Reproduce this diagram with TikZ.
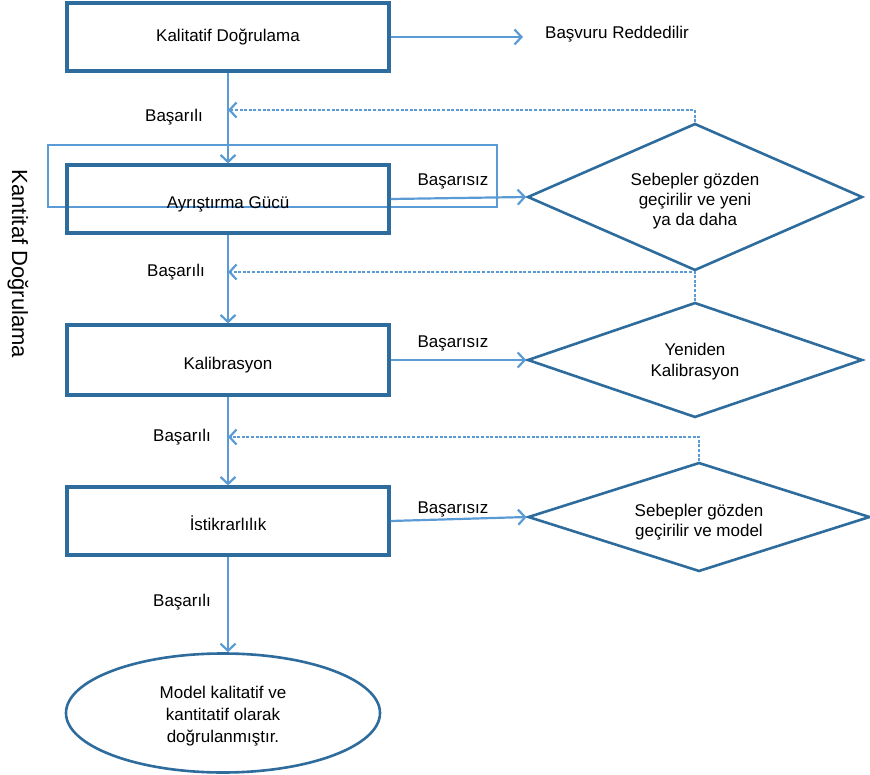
\documentclass[tikz,border=0pt]{standalone}
\usepackage{fontspec}
\setmainfont{Liberation Sans}
\usetikzlibrary{shapes.geometric,arrows.meta}
\definecolor{boxblue}{HTML}{2D6C9C}
\definecolor{linkblue}{HTML}{5B9BD5}

\begin{document}
\begin{tikzpicture}[x=1pt,y=-1pt,
  every node/.style={font=\fontsize{17}{20}\selectfont},
  stage/.style={draw=boxblue, line width=3.2pt, minimum width=322pt,
    minimum height=68pt, inner sep=0pt},
  lowtext/.style={text height=19pt, text depth=0pt},
  check/.style={diamond, draw=boxblue, line width=2.6pt, aspect=2.3,
    inner sep=0pt, minimum width=335pt, minimum height=147pt},
  ctext/.style={align=center, inner sep=0pt},
  link/.style={draw=linkblue, line width=2.2pt,
    -{Straight Barb[length=7pt,width=15pt]}},
  back/.style={draw=linkblue, line width=1.6pt, dash pattern=on 3pt off 1.6pt,
    -{Straight Barb[length=7pt,width=15pt,line width=2.2pt]}},
  lbl/.style={inner sep=0pt}]

\useasboundingbox (0,0) rectangle (870,775);

% thin outline around the second stage
\node[draw=linkblue, line width=1.4pt, minimum width=449pt, minimum height=62pt,
  inner sep=0pt] (frame) at (272.5,176) {};

% main stages
\node[stage] (b1) at (228,37) {Kalitatif Doğrulama};
\node[lbl, anchor=west] (rej) at (545,34) {Başvuru Reddedilir};
\node[stage, lowtext] (b2) at (228,199) {Ayrıştırma Gücü};
\node[stage, lowtext, minimum height=70pt] (b3) at (228,360) {Kalibrasyon};
\node[stage, lowtext] (b4) at (228,521) {İstikrarlılık};
\node[ellipse, draw=boxblue, line width=2.6pt, minimum width=314pt,
  minimum height=119pt, inner sep=0pt] (end) at (223,713) {};
\node[ctext, font=\fontsize{17}{22}\selectfont] (endtext) at (223,716)
  {Model kalitatif ve\\kantitatif olarak\\doğrulanmıştır.};

% decisions on failure
\node[check] (d1) at (695,197) {};
\node[ctext] (d1text) at (695,201) {Sebepler gözden\\geçirilir ve yeni\\ya da daha};
\node[check, minimum height=115pt] (d2) at (695,360) {};
\node[ctext, font=\fontsize{17}{21}\selectfont] (d2text) at (695,362)
  {Yeniden\\Kalibrasyon};
\node[check, minimum width=342pt, minimum height=109pt] (d3) at (699,517) {};
\node[ctext] (d3text) at (699,522) {Sebepler gözden\\geçirilir ve model};

% labels
\node[lbl] (ok1) at (174,117) {Başarılı};
\node[lbl] (ok2) at (176,272) {Başarılı};
\node[lbl] (ok3) at (182,437) {Başarılı};
\node[lbl] (ok4) at (182,602) {Başarılı};
\node[lbl] (no2) at (453,181) {Başarısız};
\node[lbl] (no3) at (453,343) {Başarısız};
\node[lbl] (no4) at (453,509) {Başarısız};
\node[rotate=-90, font=\fontsize{22}{26}\selectfont] (side) at (18,264)
  {Kantitaf Doğrulama};

% main flow
\draw[link, shorten >=22pt] (b1.east) -- (b1.east -| rej.west);
\draw[link] (b1) -- (b2);
\draw[link] (b2) -- (b3);
\draw[link] (b3) -- (b4);
\draw[link] (b4.south) -- (b4.south |- end.north);

% failure branches
\draw[link] (b2.east) -- (d1.west);
\draw[link] (b3.east) -- (d2.west);
\draw[link] (b4.east) -- (d3.west);

% return paths
\coordinate (m1) at (228,110);
\coordinate (m2) at (228,272);
\coordinate (m3) at (228,437);
\draw[back] (d1.north) |- (m1);
\draw[back] (d2.north) |- (m2);
\draw[back] (d3.north) |- (m3);
\end{tikzpicture}
\end{document}
